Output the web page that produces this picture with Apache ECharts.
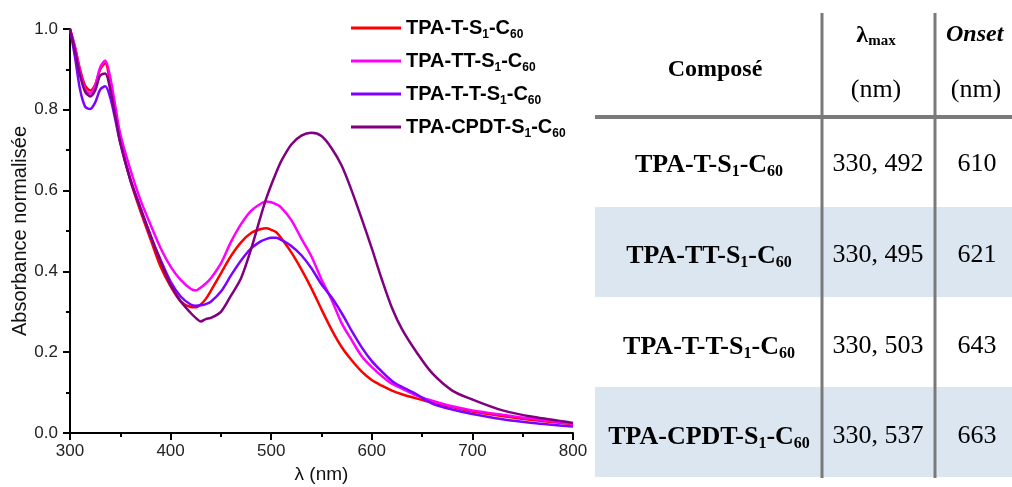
<!DOCTYPE html>
<html><head><meta charset="utf-8">
<script src="https://cdn.jsdelivr.net/npm/echarts@6/dist/echarts.min.js"></script>
<style>html,body{margin:0;padding:0;background:#fff}#c{width:1012px;height:487px}</style>
</head><body><div id="c"></div>
<script>
// ---- spectra data (wavelength in nm, normalized absorbance) ----
const wavelengths = [300,305,310,315,320,325,330,335,340,345,350,360,370,380,390,400,410,420,425,430,435,440,450,460,470,480,490,495,500,505,510,520,530,540,550,560,570,580,590,600,610,620,630,645,660,680,700,730,760,800];
const absT = [1.000,0.955,0.900,0.860,0.848,0.862,0.900,0.915,0.865,0.795,0.725,0.625,0.549,0.480,0.412,0.363,0.326,0.312,0.311,0.318,0.332,0.352,0.395,0.438,0.472,0.495,0.505,0.507,0.503,0.497,0.482,0.447,0.405,0.358,0.306,0.256,0.213,0.180,0.152,0.131,0.117,0.105,0.096,0.085,0.075,0.064,0.053,0.042,0.032,0.022];
const absTT = [1.000,0.955,0.895,0.852,0.840,0.860,0.905,0.922,0.880,0.810,0.740,0.652,0.577,0.516,0.458,0.412,0.379,0.357,0.353,0.360,0.370,0.383,0.420,0.473,0.517,0.550,0.568,0.573,0.571,0.566,0.558,0.527,0.481,0.437,0.380,0.330,0.272,0.230,0.190,0.163,0.141,0.122,0.110,0.092,0.080,0.066,0.056,0.045,0.035,0.023];
const absTdT = [1.000,0.930,0.850,0.808,0.802,0.818,0.850,0.858,0.830,0.776,0.718,0.627,0.557,0.487,0.429,0.375,0.338,0.318,0.315,0.316,0.319,0.325,0.350,0.390,0.427,0.457,0.475,0.480,0.483,0.483,0.478,0.463,0.440,0.408,0.368,0.336,0.297,0.253,0.212,0.178,0.152,0.129,0.114,0.095,0.073,0.058,0.047,0.034,0.025,0.016];
const absCPDT = [1.000,0.945,0.885,0.845,0.833,0.848,0.885,0.890,0.850,0.785,0.718,0.627,0.557,0.490,0.425,0.367,0.326,0.297,0.285,0.276,0.282,0.285,0.300,0.340,0.383,0.455,0.540,0.580,0.614,0.645,0.673,0.714,0.736,0.743,0.735,0.705,0.662,0.600,0.530,0.457,0.380,0.310,0.257,0.198,0.148,0.105,0.083,0.056,0.040,0.025];
const seriesNames = ['TPA-T-S1-C60','TPA-TT-S1-C60','TPA-T-T-S1-C60','TPA-CPDT-S1-C60'];
const seriesColors = ['#ff0000','#ff00ff','#7f00ff','#800080'];
const seriesValues = [absT, absTT, absTdT, absCPDT];

// ---- table data ----
const tableHeader = ['Composé', 'λ', 'max', 'Onset', '(nm)'];
const tableCompounds = ['TPA-T-S1-C60','TPA-TT-S1-C60','TPA-T-T-S1-C60','TPA-CPDT-S1-C60'];
const tableLambdaMax = ['330, 492','330, 495','330, 503','330, 537'];
const tableOnset = ['610','621','643','663'];

function richName(name, m, s) {
  const p = name.match(/^(.*S)1(-C)60$/);
  return '{' + m + '|' + p[1] + '}{' + s + '|1}{' + m + '|' + p[2] + '}{' + s + '|60}';
}

const chart = echarts.init(document.getElementById('c'), null, {renderer: 'canvas'});

const series = seriesNames.map((n, i) => ({
  name: n, type: 'line', showSymbol: false, symbol: 'none', smooth: 0.3,
  lineStyle: {color: seriesColors[i], width: 2.5},
  itemStyle: {color: seriesColors[i]},
  data: wavelengths.map((w, k) => [w, seriesValues[i][k]])
}));

// table graphics
const serif = "'Liberation Serif','Times New Roman',serif";
const rowTops = [117, 207, 297, 387];
const rowH = 90;
const rowCenters = [165, 256, 347, 437];
const gfx = [];
rowTops.forEach((t, i) => {
  if (i % 2 === 1) gfx.push({type: 'rect', shape: {x: 595, y: t, width: 417, height: rowH}, style: {fill: '#dce6f1'}, silent: true});
});
gfx.push({type: 'line', shape: {x1: 595, y1: 117, x2: 1012, y2: 117}, style: {stroke: '#7a7a7a', lineWidth: 4}, silent: true});
[822, 935].forEach(x => gfx.push({type: 'line', shape: {x1: x, y1: 13, x2: x, y2: 478}, style: {stroke: '#7a7a7a', lineWidth: 3}, silent: true}));
// header
gfx.push({type: 'text', x: 715, y: 70, style: {text: tableHeader[0], fontFamily: serif, fontSize: 24, fontWeight: 'bold', fill: '#000', align: 'center', verticalAlign: 'middle'}, silent: true});
gfx.push({type: 'text', x: 876, y: 36, style: {text: '{l|' + tableHeader[1] + '}{s|' + tableHeader[2] + '}', align: 'center', verticalAlign: 'middle', fill: '#000',
  rich: {l: {fontFamily: serif, fontSize: 24, fontWeight: 'bold', fill: '#000', lineHeight: 26},
         s: {fontFamily: serif, fontSize: 15, fontWeight: 'bold', fill: '#000', lineHeight: 14, verticalAlign: 'bottom'}}}, silent: true});
gfx.push({type: 'text', x: 876, y: 90, style: {text: tableHeader[4], fontFamily: serif, fontSize: 26, fill: '#000', align: 'center', verticalAlign: 'middle'}, silent: true});
gfx.push({type: 'text', x: 946, y: 35, style: {text: tableHeader[3], fontFamily: serif, fontSize: 24, fontWeight: 'bold', fontStyle: 'italic', fill: '#000', align: 'left', verticalAlign: 'middle'}, silent: true});
gfx.push({type: 'text', x: 976, y: 90, style: {text: tableHeader[4], fontFamily: serif, fontSize: 26, fill: '#000', align: 'center', verticalAlign: 'middle'}, silent: true});
// rows
tableCompounds.forEach((c, i) => {
  const y = rowCenters[i];
  gfx.push({type: 'text', x: 709, y: y, style: {text: richName(c, 'm', 's'), align: 'center', verticalAlign: 'middle', fill: '#000',
    rich: {m: {fontFamily: serif, fontSize: 26, fontWeight: 'bold', fill: '#000', lineHeight: 30},
           s: {fontFamily: serif, fontSize: 16, fontWeight: 'bold', fill: '#000', lineHeight: 14, verticalAlign: 'bottom'}}}, silent: true});
  gfx.push({type: 'text', x: 878, y: y - 1, style: {text: tableLambdaMax[i], fontFamily: serif, fontSize: 26, fill: '#000', align: 'center', verticalAlign: 'middle'}, silent: true});
  gfx.push({type: 'text', x: 977, y: y - 1, style: {text: tableOnset[i], fontFamily: serif, fontSize: 26, fill: '#000', align: 'center', verticalAlign: 'middle'}, silent: true});
});

const sans = "'Liberation Sans', Arial, sans-serif";
const option = {
  backgroundColor: '#fff',
  animation: false,
  grid: {left: 70, right: 439, top: 29, bottom: 54, containLabel: false, outerBoundsMode: 'none'},
  legend: {
    left: 346, top: 13, orient: 'vertical', itemWidth: 50, itemHeight: 3, itemGap: 10, icon: 'rect',
    data: seriesNames, selectedMode: false,
    formatter: n => richName(n, 'm', 's'),
    textStyle: {fontFamily: sans, fontSize: 20, fontWeight: 'bold', color: '#000',
      rich: {m: {fontFamily: sans, fontSize: 20, fontWeight: 'bold', color: '#000', lineHeight: 26},
             s: {fontFamily: sans, fontSize: 12, fontWeight: 'bold', color: '#000', lineHeight: 8, verticalAlign: 'bottom'}}}
  },
  xAxis: {
    type: 'value', min: 300, max: 800, interval: 100,
    name: 'λ (nm)', nameLocation: 'middle', nameGap: 31,
    nameTextStyle: {fontFamily: sans, fontSize: 19, color: '#111'},
    axisLine: {show: true, onZero: false, lineStyle: {color: '#000', width: 2}},
    axisTick: {show: true, inside: false, length: 7, lineStyle: {color: '#000', width: 2}},
    minorTick: {show: true, splitNumber: 2, length: 4, lineStyle: {color: '#000', width: 2}},
    splitLine: {show: false}, minorSplitLine: {show: false},
    axisLabel: {fontFamily: sans, fontSize: 17, color: '#222', margin: 10}
  },
  yAxis: {
    type: 'value', min: 0, max: 1, interval: 0.2,
    name: 'Absorbance normalisée', nameLocation: 'middle', nameGap: 40,
    nameTextStyle: {fontFamily: sans, fontSize: 20, color: '#111'},
    axisLine: {show: true, onZero: false, lineStyle: {color: '#000', width: 2}},
    axisTick: {show: true, inside: false, length: 7, lineStyle: {color: '#000', width: 2}},
    minorTick: {show: true, splitNumber: 2, length: 4, lineStyle: {color: '#000', width: 2}},
    splitLine: {show: false}, minorSplitLine: {show: false},
    axisLabel: {fontFamily: sans, fontSize: 17, color: '#222', margin: 12, formatter: v => v.toFixed(1)}
  },
  series: series,
  graphic: {elements: gfx}
};
chart.setOption(option);
</script>
</body></html>
